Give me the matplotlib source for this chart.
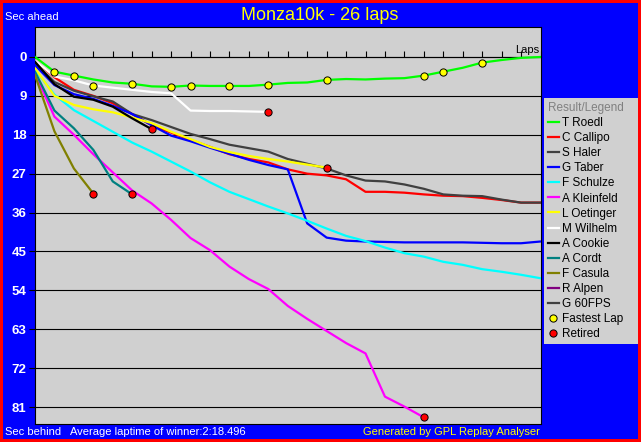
import matplotlib
matplotlib.use('Agg')
import matplotlib.pyplot as plt

plt.rcParams['font.family'] = ['Liberation Sans', 'DejaVu Sans']

# ---------------- data ----------------
title = "Monza10k - 26 laps"
laps = list(range(27))

drivers = ["T Roedl", "C Callipo", "S Haler", "G Taber", "F Schulze", "A Kleinfeld",
           "L Oetinger", "M Wilhelm", "A Cookie", "A Cordt", "F Casula", "R Alpen", "G 60FPS"]
colors = ["#00FF00", "#FF0000", "#404040", "#0000FF", "#00FFFF", "#FF00FF",
          "#FFFF00", "#FFFFFF", "#000000", "#008080", "#808000", "#800080", "#404040"]

roedl = [0, 3.4, 4.3, 5.2, 5.9, 6.2, 6.8, 6.9, 6.6, 6.7, 6.7, 6.7, 6.4, 6.0, 5.9, 5.3,
         5.1, 5.2, 5.0, 4.9, 4.3, 3.4, 2.5, 1.3, 0.7, 0.2, 0.0]
callipo = [0.8, 4.7, 7.6, 9.0, 10.7, 13.2, 15.8, 17.5, 19.2, 20.8, 22.5, 23.6, 24.4, 26.0,
           27.0, 27.4, 28.3, 31.2, 31.2, 31.4, 31.8, 32.1, 32.2, 32.6, 33.1, 33.7, 33.7]
haler = [1.4, 5.8, 7.8, 9.1, 10.3, 13.2, 14.6, 16.2, 17.8, 19.0, 20.3, 21.1, 21.9, 23.6,
         24.7, 25.8, 27.4, 28.6, 28.8, 29.5, 30.5, 31.8, 32.1, 32.2, 33.0, 33.7, 33.7]
taber = [1.9, 6.5, 8.6, 9.7, 11.3, 13.2, 15.8, 18.2, 19.5, 21.0, 22.4, 23.8, 25.0, 26.0,
         38.5, 41.8, 42.5, 42.7, 42.8, 42.9, 42.9, 42.9, 42.9, 43.0, 43.1, 43.1, 42.7]
schulze = [3.0, 8.7, 12.3, 14.8, 17.3, 19.8, 21.9, 24.2, 26.5, 29.0, 31.2, 32.9, 34.6, 36.2,
           37.9, 39.7, 41.4, 42.6, 44.1, 45.4, 46.2, 47.4, 48.1, 49.1, 49.7, 50.4, 51.2]
kleinfeld = [3.8, 13.8, 18.0, 22.5, 26.7, 30.9, 33.9, 37.7, 41.9, 44.7, 48.5, 51.4, 53.7,
             57.6, 60.6, 63.4, 66.2, 68.6, 78.6, 80.9, 83.4]
oetinger = [2.6, 9.0, 11.1, 12.1, 12.8, 14.0, 15.3, 17.3, 19.0, 20.8, 22.0, 22.9, 23.6,
            24.2, 24.9, 25.6]
wilhelm = [0.8, 4.5, 5.4, 6.6, 7.1, 7.6, 8.1, 8.4, 12.4, 12.5, 12.5, 12.6, 12.7]
cookie = [1.1, 6.3, 9.2, 9.9, 11.5, 14.2, 16.7]
cordt = [3.4, 12.4, 16.5, 21.5, 28.8, 31.8]
casula = [4.2, 17.2, 25.8, 31.6]
alpen = []
fps60 = []

series = [roedl, callipo, haler, taber, schulze, kleinfeld, oetinger, wilhelm,
          cookie, cordt, casula, alpen, fps60]

fastest_laps = [1, 2, 3, 5, 7, 8, 10, 12, 15, 20, 21, 23]
fastest_drivers = ["T Roedl", "T Roedl", "M Wilhelm", "T Roedl", "T Roedl", "T Roedl",
                   "T Roedl", "T Roedl", "T Roedl", "T Roedl", "T Roedl", "T Roedl"]

yticks = [0, 9, 18, 27, 36, 45, 54, 63, 72, 81]

# ---------------- figure ----------------
W, H = 641, 442
fig = plt.figure(figsize=(W / 100, H / 100), dpi=100)
fig.patch.set_facecolor('#0000FF')
fig.patch.set_edgecolor('#FF0000')
fig.patch.set_linewidth(3)

L, R, T, B = 35, 540.5, 27, 424
ax = fig.add_axes([L / W, 1 - B / H, (R - L) / W, (B - T) / H])
ax.set_facecolor('#D0D0D0')
ytop, ybot = -6.94, 84.93
ax.set_xlim(0, 26)
ax.set_ylim(ybot, ytop)
ax.set_xticks([])
ax.set_yticks(yticks)
ax.set_yticklabels([str(v) for v in yticks])
ax.tick_params(axis='y', direction='out', length=4, width=0.8, color='black',
               labelcolor='white', labelsize=9.5, pad=2)
for lab in ax.get_yticklabels():
    lab.set_fontweight('bold')
ax.grid(axis='y', color='black', linewidth=0.8)
ax.set_axisbelow(True)
for s in ax.spines.values():
    s.set_color('black')
    s.set_linewidth(0.8)

# lap axis at y = 0 with ticks pointing up
frac0 = (ybot - 0) / (ybot - ytop)
sec = ax.secondary_xaxis(frac0)
sec.set_xticks(laps)
sec.tick_params(axis='x', direction='out', length=4, width=0.8, color='black',
                labeltop=False, labelbottom=False)
for s in sec.spines.values():
    s.set_color('black')
    s.set_linewidth(0.8)
ax.annotate('Laps', xy=(26, 0), xycoords='data', xytext=(-1, 1.5), textcoords='offset points',
            ha='right', va='bottom', fontsize=8, color='black')

handles = []
for i, (name, col, vals) in enumerate(zip(drivers, colors, series)):
    h, = ax.plot(laps[:len(vals)], vals, color=col, lw=1.6, label=name,
                 solid_joinstyle='round', zorder=3 + i * 0.01)
    handles.append(h)

lookup = dict(zip(drivers, series))
fx = fastest_laps
fy = [lookup[d][l] for l, d in zip(fastest_laps, fastest_drivers)]
hf, = ax.plot(fx, fy, ls='none', marker='o', ms=5.2, mfc='#FFFF00', mec='black', mew=0.7,
              zorder=5, label='Fastest Lap')

rx = [len(v) - 1 for v in series if 0 < len(v) < len(laps)]
ry = [v[-1] for v in series if 0 < len(v) < len(laps)]
hr, = ax.plot(rx, ry, ls='none', marker='o', ms=5.2, mfc='#FF0000', mec='black', mew=0.7,
              zorder=6, label='Retired')

labels = drivers + ['Fastest Lap', 'Retired']
leg = fig.legend(handles + [hf, hr], labels, loc='upper left',
                 bbox_to_anchor=(544 / W, 1 - 343 / H, 94 / W, 245 / H),
                 bbox_transform=fig.transFigure, mode='expand',
                 title='Result/Legend', alignment='left', frameon=True,
                 facecolor='#D0D0D0', edgecolor='none', framealpha=1, fancybox=False,
                 fontsize=8.5, title_fontsize=8.5, handlelength=0.9, handletextpad=0.25,
                 labelspacing=0.26, borderpad=0.35, borderaxespad=0)
leg.get_title().set_color('#808080')

# texts
fig.text(320 / W, 1 - 15 / H, title, color='#FFFF00', fontsize=13, ha='center', va='center')
fig.text(5 / W, 1 - 17 / H, 'Sec ahead', color='white', fontsize=8, ha='left', va='center')
fig.text(5 / W, 1 - 432 / H, 'Sec behind', color='white', fontsize=8, ha='left', va='center')
fig.text(70 / W, 1 - 432 / H, 'Average laptime of winner:2:18.496', color='white',
         fontsize=8, ha='left', va='center')
fig.text(540 / W, 1 - 432 / H, 'Generated by GPL Replay Analyser', color='#FFFF00',
         fontsize=8, ha='right', va='center')

fig.savefig('out.png', dpi=100)
